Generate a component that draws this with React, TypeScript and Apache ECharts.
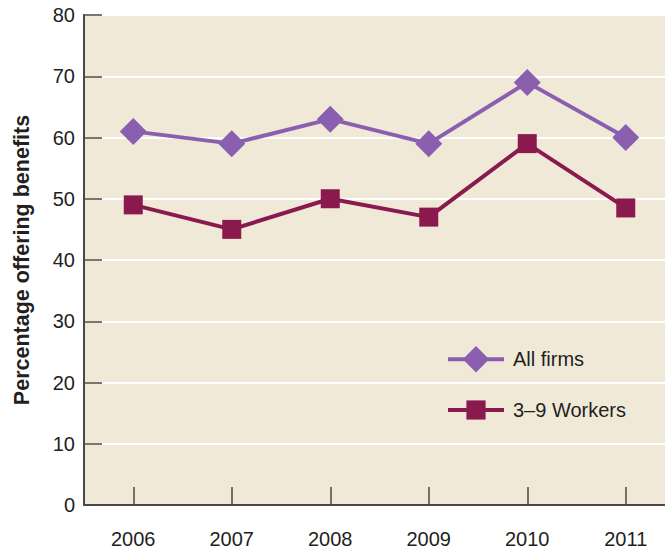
import React, { useEffect, useRef } from "react";
import * as echarts from "echarts";

const years = ["2006", "2007", "2008", "2009", "2010", "2011"];
const allFirms = [61, 59, 63, 59, 69, 60];
const smallFirms = [49, 45, 50, 47, 59, 48.5];
const seriesNames = ["All firms", "3–9 Workers"];
const yAxisTitle = "Percentage offering benefits";

const FONT = "'Liberation Sans', Arial, Helvetica, sans-serif";
const PURPLE = "#8b5fb0";
const MAROON = "#8a1a4e";
const AXIS = "#4d4840";
const TEXT = "#231f20";

export default function App() {
  const ref = useRef<HTMLDivElement>(null);
  useEffect(() => {
    if (!ref.current) return;
    const chart = echarts.init(ref.current, undefined, { renderer: "svg" });
    chart.setOption({
      animation: false,
      backgroundColor: "#ffffff",
      textStyle: { fontFamily: FONT },
      grid: {
        left: 84,
        top: 15,
        right: -10,
        bottom: 48,
        outerBoundsMode: "none",
        containLabel: false,
        show: true,
        backgroundColor: "#f1e9d8",
        borderColor: AXIS,
        borderWidth: 1.5,
      },
      legend: [
        {
          data: [seriesNames[0]],
          left: 446,
          top: 346,
          padding: 0,
          itemWidth: 56,
          itemHeight: 33,
          itemGap: 10,
          lineStyle: { width: 4 },
          textStyle: { fontSize: 20, color: TEXT, fontFamily: FONT, padding: [0, 0, 0, 4] },
        },
        {
          data: [seriesNames[1]],
          left: 446,
          top: 400,
          padding: 0,
          itemWidth: 56,
          itemHeight: 24,
          lineStyle: { width: 4 },
          textStyle: { fontSize: 20, color: TEXT, fontFamily: FONT, padding: [0, 0, 0, 4] },
        },
      ],
      xAxis: {
        type: "category",
        data: years,
        boundaryGap: true,
        axisLine: { show: true, lineStyle: { color: AXIS, width: 2 } },
        axisTick: {
          show: true,
          inside: true,
          length: 18,
          alignWithLabel: true,
          lineStyle: { color: AXIS, width: 1.5 },
        },
        axisLabel: { fontSize: 20, color: TEXT, margin: 24, fontFamily: FONT },
        splitLine: { show: false },
      },
      yAxis: {
        type: "value",
        min: 0,
        max: 80,
        interval: 10,
        name: yAxisTitle,
        nameLocation: "middle",
        nameGap: 51,
        nameTextStyle: { fontSize: 21.5, fontWeight: "bold", color: TEXT, fontFamily: FONT },
        axisLine: { show: true, lineStyle: { color: AXIS, width: 2 } },
        axisTick: { show: true, inside: true, length: 18, lineStyle: { color: AXIS, width: 1.5 } },
        axisLabel: { fontSize: 20, color: TEXT, margin: 9, fontFamily: FONT },
        splitLine: { show: true, lineStyle: { color: "#ffffff", width: 2 } },
      },
      series: [
        {
          name: seriesNames[0],
          type: "line",
          data: allFirms,
          symbol: "diamond",
          symbolSize: 27,
          lineStyle: { color: PURPLE, width: 4 },
          itemStyle: { color: PURPLE },
          z: 3,
        },
        {
          name: seriesNames[1],
          type: "line",
          data: smallFirms,
          symbol: "rect",
          symbolSize: 19,
          lineStyle: { color: MAROON, width: 4 },
          itemStyle: { color: MAROON },
          z: 2,
        },
      ],
    });
    return () => chart.dispose();
  }, []);
  return (
    <div
      ref={ref}
      style={{ position: "absolute", left: 0, top: 0, width: 665, height: 553 }}
    />
  );
}
